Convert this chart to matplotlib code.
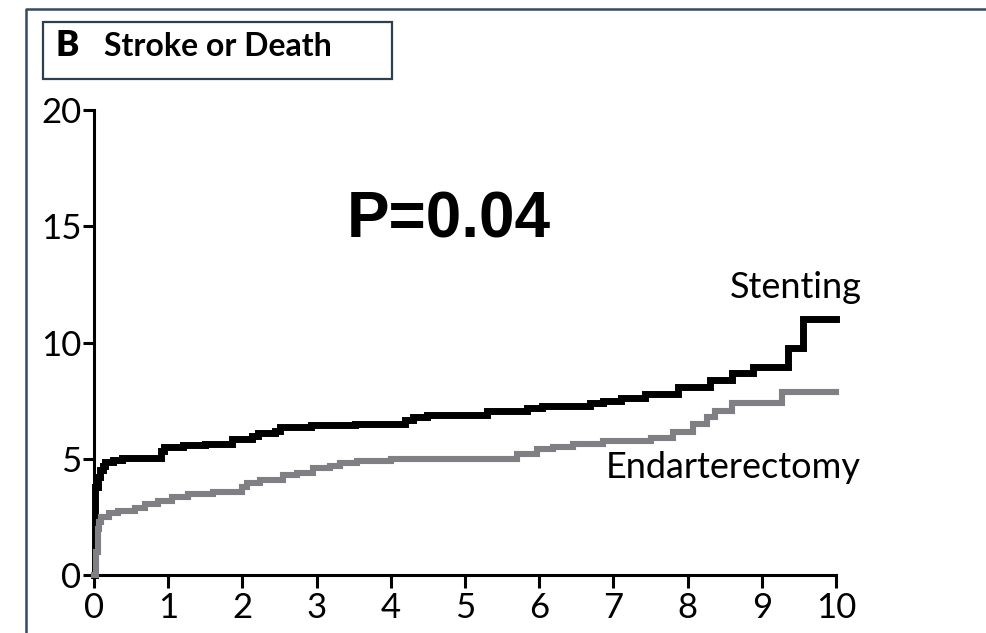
import matplotlib
matplotlib.use("Agg")
import matplotlib.pyplot as plt
from matplotlib.lines import Line2D
from matplotlib.patches import Rectangle

# Cumulative incidence (%) of stroke or death by year of follow-up
stent_t = [0, 0.01, 0.02, 0.05, 0.08, 0.12, 0.15, 0.25, 0.38, 0.90, 0.95, 1.20,
           1.50, 1.86, 2.13, 2.21, 2.44, 2.50, 2.93, 3.52, 4.19, 4.30, 4.49, 5.30,
           5.84, 6.04, 6.68, 6.86, 7.10, 7.43, 7.87, 8.30, 8.60, 8.88, 9.35, 9.56, 10.0]
stent_v = [0, 2.5, 3.8, 4.2, 4.5, 4.7, 4.85, 4.95, 5.05, 5.35, 5.5, 5.6,
           5.65, 5.85, 6.0, 6.1, 6.2, 6.35, 6.45, 6.5, 6.65, 6.8, 6.9, 7.05,
           7.18, 7.27, 7.4, 7.5, 7.6, 7.8, 8.1, 8.4, 8.7, 8.95, 9.75, 11.0, 11.0]

endart_t = [0, 0.03, 0.05, 0.07, 0.10, 0.20, 0.32, 0.55, 0.69, 0.86, 1.05, 1.27,
            1.60, 2.00, 2.06, 2.24, 2.55, 2.73, 2.95, 3.18, 3.31, 3.54, 4.00, 5.70,
            5.97, 6.19, 6.46, 6.86, 7.50, 7.80, 8.07, 8.26, 8.37, 8.60, 9.27, 10.0]
endart_v = [0, 1.0, 2.0, 2.3, 2.5, 2.65, 2.75, 2.88, 3.05, 3.2, 3.35, 3.5,
            3.55, 3.78, 3.95, 4.1, 4.3, 4.4, 4.6, 4.7, 4.8, 4.9, 5.0, 5.2,
            5.4, 5.5, 5.65, 5.75, 5.9, 6.15, 6.5, 6.8, 7.05, 7.4, 7.85, 7.85]

x_ticks = list(range(0, 11))
y_ticks = [0, 5, 10, 15, 20]

W, H = 986, 633
fig = plt.figure(figsize=(W / 100, H / 100), dpi=100)
fig.patch.set_facecolor("white")

ax = fig.add_axes([94 / W, 1 - 575 / H, 742 / W, 465 / H])
ax.step(endart_t, endart_v, where="post", color="#808084", lw=4.4,
        solid_joinstyle="miter", clip_on=False, zorder=3)
ax.step(stent_t, stent_v, where="post", color="black", lw=5.0,
        solid_joinstyle="miter", clip_on=False, zorder=2)

ax.set_xlim(0, 10)
ax.set_ylim(0, 20)
ax.set_xticks(x_ticks)
ax.set_yticks(y_ticks)
for s in ("top", "right"):
    ax.spines[s].set_visible(False)
for s in ("left", "bottom"):
    ax.spines[s].set_linewidth(2.2)
ax.tick_params(axis="both", direction="out", width=2.2,
               labelsize=25, colors="black")
ax.tick_params(axis="y", length=8, pad=1)
ax.tick_params(axis="x", length=9, pad=3)
for lab in ax.get_xticklabels() + ax.get_yticklabels():
    lab.set_family("Lato")

# Curve labels and P value
fig.text(862 / W, 1 - 288 / H, "Stenting", ha="right", va="center",
         fontsize=26, family="Lato")
fig.text(861 / W, 1 - 467 / H, "Endarterectomy", ha="right", va="center",
         fontsize=26, family="Lato")
fig.text(449 / W, 1 - 220 / H, "P=0.04", ha="center", va="center",
         fontsize=46, fontweight="bold", family="Liberation Sans")

# Panel frame and title box
fig.add_artist(Line2D([26 / W, 26 / W, 1.0], [0.0, 1 - 9 / H, 1 - 9 / H],
                      transform=fig.transFigure, color="#354a60", lw=1.8))
fig.add_artist(Rectangle((43 / W, 1 - 79 / H), (392 - 43) / W, (79 - 22) / H,
                         transform=fig.transFigure, fill=False,
                         edgecolor="#2c3e50", lw=1.6))
fig.text(56 / W, 1 - 46 / H, "B", ha="left", va="center", fontsize=25,
         fontweight="heavy", family="Lato")
fig.text(104 / W, 1 - 46 / H, "Stroke or Death", ha="left", va="center",
         fontsize=23, fontweight="bold", family="Lato")

fig.savefig("out.png", dpi=100, facecolor="white")
